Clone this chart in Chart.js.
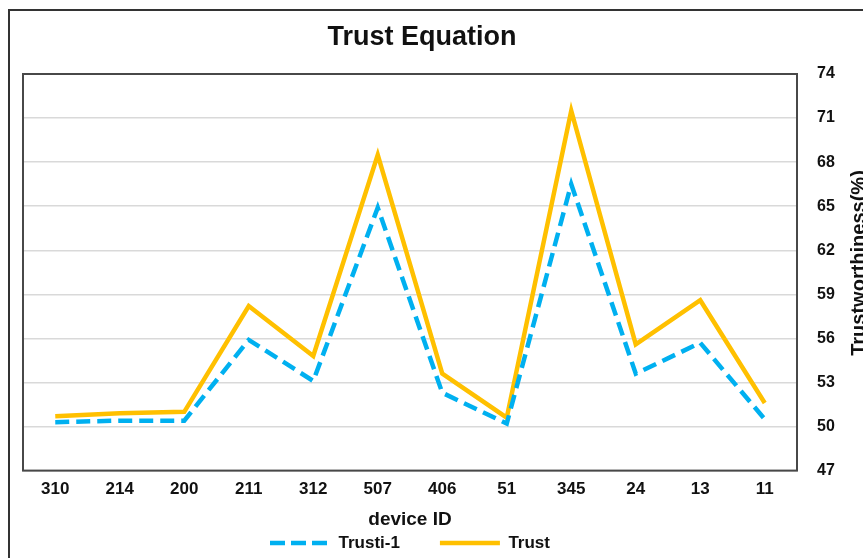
<!DOCTYPE html>
<html>
<head>
<meta charset="utf-8">
<script src="https://cdn.jsdelivr.net/npm/chart.js@4/dist/chart.umd.min.js"></script>
<style>
  html, body { margin: 0; padding: 0; background: #fff; overflow: hidden; width: 863px; height: 558px; }
  #frame { position: absolute; left: 8px; top: 9px; width: 900px; height: 600px; border: 2px solid #333; box-sizing: border-box; }
  #c { position: absolute; left: -18px; top: 0; }
</style>
</head>
<body>
<div id="frame"></div>
<canvas id="c" width="900" height="558"></canvas>
<script>
const chartTitle = 'Trust Equation';
const xTitle = 'device ID';
const yTitle = 'Trustworthiness(%)';
const categories = ['310', '214', '200', '211', '312', '507', '406', '51', '345', '24', '13', '11'];
const trustPrev = [50.3, 50.4, 50.4, 55.9, 53.1, 64.9, 52.3, 50.2, 66.5, 53.6, 55.7, 50.5];
const trust = [50.7, 50.9, 51.0, 58.2, 54.8, 68.5, 53.6, 50.6, 71.5, 55.6, 58.6, 51.6];
const seriesNames = ['Trusti-1', 'Trust'];
const yMin = 47, yMax = 74, yStep = 3;

const FONT = "'Liberation Sans', Arial, sans-serif";

const plotBorder = {
  id: 'plotBorder',
  beforeDatasetsDraw(chart) {
    const a = chart.chartArea, ctx = chart.ctx;
    ctx.save();
    ctx.strokeStyle = '#484848';
    ctx.lineWidth = 2;
    ctx.strokeRect(a.left, a.top, a.right - a.left, a.bottom - a.top);
    ctx.restore();
  }
};
const textPlugin = {
  id: 'textPlugin',
  afterDraw(chart) {
    const ctx = chart.ctx;
    ctx.save();
    ctx.fillStyle = '#111';
    // main title
    ctx.font = 'bold 27px ' + FONT;
    ctx.textAlign = 'center';
    ctx.textBaseline = 'middle';
    ctx.fillText(chartTitle, 440, 38);
    // y-axis title (reads bottom to top)
    ctx.font = 'bold 20px ' + FONT;
    ctx.translate(883, 263);
    ctx.rotate(-Math.PI / 2);
    ctx.textAlign = 'center';
    ctx.textBaseline = 'alphabetic';
    ctx.fillText(yTitle, 0, 0);
    ctx.restore();
  }
};

new Chart(document.getElementById('c'), {
  type: 'line',
  data: {
    labels: categories,
    datasets: [
      { label: seriesNames[0], data: trustPrev, borderColor: '#00B0F0', backgroundColor: '#00B0F0',
        borderWidth: 4.5, borderDash: [14, 7], pointRadius: 0, tension: 0, borderJoinStyle: 'miter', borderCapStyle: 'butt' },
      { label: seriesNames[1], data: trust, borderColor: '#FFC000', backgroundColor: '#FFC000',
        borderWidth: 4.5, pointRadius: 0, tension: 0, borderJoinStyle: 'miter' }
    ]
  },
  options: {
    responsive: false,
    animation: false,
    devicePixelRatio: 1,
    layout: { padding: { left: 41, right: 40, top: 74, bottom: 3.5 } },
    plugins: {
      tooltip: { enabled: false },
      title: { display: false },
      legend: {
        position: 'bottom', fullSize: false, maxHeight: 60,
        labels: { boxWidth: 60, boxHeight: 0, padding: 40,
                  color: '#111', font: { family: FONT, size: 17, weight: 'bold' } }
      }
    },
    scales: {
      x: {
        offset: true,
        grid: { display: false, drawTicks: false },
        border: { display: false },
        ticks: { color: '#111', padding: 9, font: { family: FONT, size: 17, weight: 'bold' } },
        title: { display: true, text: xTitle, color: '#111', font: { family: FONT, size: 19, weight: 'bold' },
                 padding: { top: -0.6, bottom: -36.7 } }
      },
      y: {
        position: 'right',
        min: yMin, max: yMax,
        afterFit(scale) { scale.width = 45; },
        grid: { color: '#d9d9d9', lineWidth: 1.5, drawTicks: false },
        border: { display: false },
        ticks: { stepSize: yStep, padding: 20, color: '#111', font: { family: FONT, size: 16, weight: 'bold' } }
      }
    }
  },
  plugins: [plotBorder, textPlugin]
});
</script>
</body>
</html>
